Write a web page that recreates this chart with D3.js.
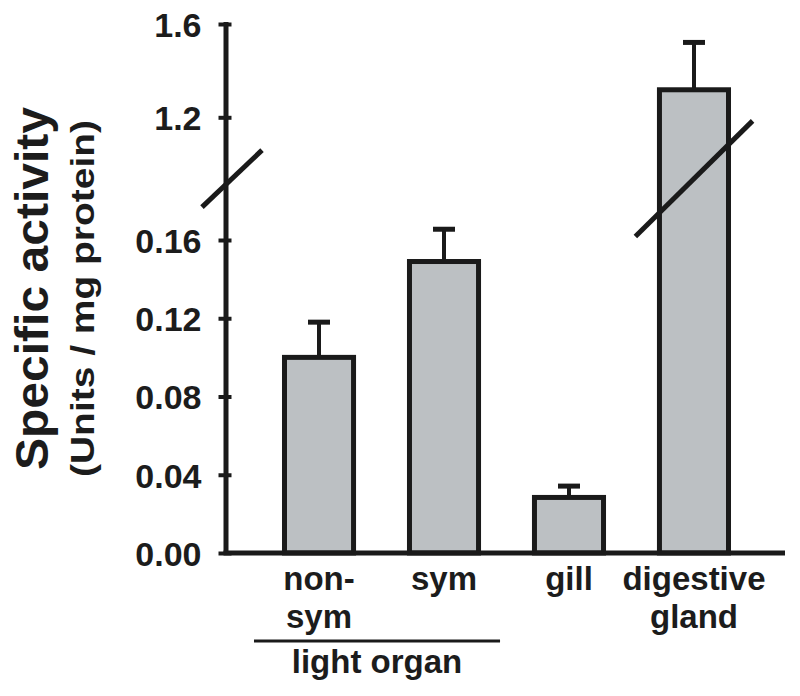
<!DOCTYPE html>
<html><head><meta charset="utf-8">
<script src="https://cdn.jsdelivr.net/npm/d3@7"></script>
<style>
body{margin:0;background:#fff}
svg{display:block}
text{font-family:"Liberation Sans",Arial,Helvetica,sans-serif;font-weight:bold;fill:#1c1c1c}
</style>
</head><body>
<svg id="c" width="800" height="696"></svg>
<script>
// ---- data ----
const categories = ["non-sym", "sym", "gill", "digestive gland"];
const categoryLines = [["non-", "sym"], ["sym"], ["gill"], ["digestive", "gland"]];
const meanValues = [0.100, 0.149, 0.0284, 1.318];
const errorValues = [0.018, 0.0165, 0.0058, 0.203];
const yTicksLow = [0, 0.04, 0.08, 0.12, 0.16];
const yTickLabelsLow = ["0.00", "0.04", "0.08", "0.12", "0.16"];
const yTicksHigh = [1.2, 1.6];
const yTickLabelsHigh = ["1.2", "1.6"];
const breakLow = 0.16, breakHigh = 1.2, yMax = 1.6;
const groupLabel = "light organ";
const groupMembers = ["non-sym", "sym"];
const yTitle = "Specific activity";
const ySubtitle = "(Units / mg protein)";

// ---- layout ----
const ink = "#1a1a1a", barFill = "#bcc0c3";
const axisX = 226;
const svg = d3.select("#c");

const yLow = d3.scaleLinear().domain([0, breakLow]).range([553, 240]);
const yHigh = d3.scaleLinear().domain([breakHigh, yMax]).range([117.3, 24]);
const breakMid = (breakLow + breakHigh) / 2;
const y = v => v < breakMid ? yLow(v) : yHigh(v);

const x = d3.scaleBand()
  .domain(categories)
  .range([232, 781])
  .paddingInner(0.4075)
  .paddingOuter(0.4);
const bw = x.bandwidth();
const cx = c => x(c) + bw / 2;

const data = categories.map((c, i) => ({c, v: meanValues[i], e: errorValues[i], lines: categoryLines[i]}));

// error bars
const eb = svg.append("g");
eb.selectAll("line.v").data(data).join("line").attr("class", "v")
  .attr("x1", d => cx(d.c)).attr("x2", d => cx(d.c))
  .attr("y1", d => y(d.v)).attr("y2", d => y(d.v + d.e))
  .attr("stroke", ink).attr("stroke-width", 4);
eb.selectAll("line.cap").data(data).join("line").attr("class", "cap")
  .attr("x1", d => cx(d.c) - 11).attr("x2", d => cx(d.c) + 11)
  .attr("y1", d => y(d.v + d.e)).attr("y2", d => y(d.v + d.e))
  .attr("stroke", ink).attr("stroke-width", 5);

// bars
svg.append("g").selectAll("rect").data(data).join("rect")
  .attr("x", d => x(d.c) + 2.5)
  .attr("width", bw - 5)
  .attr("y", d => y(d.v))
  .attr("height", d => yLow(0) - y(d.v))
  .attr("fill", barFill)
  .attr("stroke", ink)
  .attr("stroke-width", 5);

// break marks on bars
const yBreak = (yLow(breakLow) + yHigh(breakHigh)) / 2;
svg.append("g").selectAll("line").data(data.filter(d => d.v > breakHigh)).join("line")
  .attr("x1", d => cx(d.c) - 58.6).attr("y1", yBreak + 57.8)
  .attr("x2", d => cx(d.c) + 58.6).attr("y2", yBreak - 57.8)
  .attr("stroke", ink).attr("stroke-width", 5);

// x axis baseline
svg.append("line")
  .attr("x1", axisX - 2.5).attr("x2", 785)
  .attr("y1", yLow(0)).attr("y2", yLow(0))
  .attr("stroke", ink).attr("stroke-width", 5);

// y axis line
svg.append("line")
  .attr("x1", axisX).attr("x2", axisX)
  .attr("y1", yLow(0)).attr("y2", yHigh(yMax) - 2)
  .attr("stroke", ink).attr("stroke-width", 5);

function drawAxis(scale, ticks, labels) {
  const ax = d3.axisLeft(scale).tickValues(ticks)
    .tickFormat((d, i) => labels[i]).tickSize(7).tickSizeOuter(0).tickPadding(17);
  const g = svg.append("g").attr("transform", `translate(${axisX - 0.5},0)`).call(ax);
  g.select(".domain").remove();
  g.selectAll(".tick line").attr("stroke", ink).attr("stroke-width", 4).attr("x1", 6);
  g.selectAll(".tick text")
    .attr("font-size", 34).attr("dy", "0.36em").attr("fill", "#1c1c1c")
    .style("font-family", '"Liberation Sans",Arial,sans-serif').style("font-weight", "bold");
}
drawAxis(yLow, yTicksLow, yTickLabelsLow);
drawAxis(yHigh, yTicksHigh, yTickLabelsHigh);

// axis break
svg.append("line")
  .attr("x1", axisX + 6 - 30).attr("y1", yBreak + 28.5)
  .attr("x2", axisX + 6 + 30).attr("y2", yBreak - 28.5)
  .attr("stroke", ink).attr("stroke-width", 5);

// category labels
const lab = svg.append("g").selectAll("text").data(data).join("text")
  .attr("x", d => cx(d.c)).attr("y", 590)
  .attr("text-anchor", "middle").attr("font-size", 33);
lab.selectAll("tspan").data(d => d.lines.map(t => ({t, x: cx(d.c)}))).join("tspan")
  .attr("x", t => t.x).attr("dy", (t, i) => i ? 38 : 0).text(t => t.t);

// group label
const gx0 = x(groupMembers[0]) - 28, gx1 = x(groupMembers[groupMembers.length - 1]) + bw + 19;
svg.append("line").attr("x1", gx0).attr("x2", gx1).attr("y1", 641).attr("y2", 641)
  .attr("stroke", ink).attr("stroke-width", 3);
svg.append("text").attr("x", (gx0 + gx1) / 2).attr("y", 673)
  .attr("text-anchor", "middle").attr("font-size", 33).text(groupLabel);

// y titles
svg.append("text").attr("transform", "translate(48,288.5) rotate(-90)")
  .attr("text-anchor", "middle").attr("font-size", 47)
  .attr("textLength", 363).attr("lengthAdjust", "spacingAndGlyphs").text(yTitle);
svg.append("text").attr("transform", "translate(94,298.5) rotate(-90)")
  .attr("text-anchor", "middle").attr("font-size", 34)
  .attr("textLength", 357).attr("lengthAdjust", "spacingAndGlyphs").text(ySubtitle);
</script>
</body></html>
